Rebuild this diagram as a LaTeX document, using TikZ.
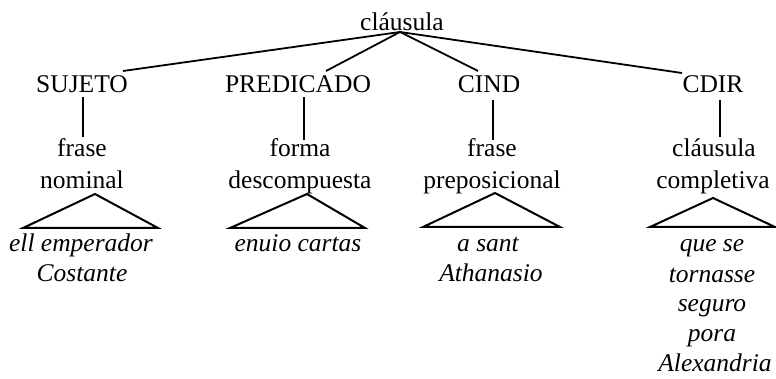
\documentclass[tikz,border=0pt]{standalone}
\usepackage{fontspec}
\setmainfont{Liberation Serif}
\begin{document}
\begin{tikzpicture}[x=1pt,y=-1pt,line width=1.6pt,
  lab/.style={anchor=base,inner sep=0pt,font=\fontsize{25.5}{30}\selectfont},
  leaf/.style={anchor=base,inner sep=0pt,font=\fontsize{25.5}{30}\selectfont\itshape},
  edge/.style={line width=1.8pt},
  tri/.style={line width=2pt,line join=miter}]
\useasboundingbox (0,0) rectangle (776,379);
% level 0
\node[lab] (root) at (402,31) {cláusula};
% level 1
\node[lab] (suj) at (82,93) {SUJETO};
\node[lab] (pred) at (298,93) {PREDICADO};
\node[lab] (cind) at (489,93) {CIND};
\node[lab] (cdir) at (713,93) {CDIR};
% level 2
\node[lab] (fn1) at (82,157) {frase};
\node[lab] (fn2) at (82,189) {nominal};
\node[lab] (fd1) at (300,157) {forma};
\node[lab] (fd2) at (300,189) {descompuesta};
\node[lab] (fp1) at (492,157) {frase};
\node[lab] (fp2) at (492,189) {preposicional};
\node[lab] (cc1) at (714,157) {cláusula};
\node[lab] (cc2) at (713,189) {completiva};
% leaves
\node[leaf] (l1a) at (81,252) {ell emperador};
\node[leaf] (l1b) at (82,282) {Costante};
\node[leaf] (l2a) at (298,252) {enuio cartas};
\node[leaf] (l3a) at (488,252) {a sant};
\node[leaf] (l3b) at (491,282) {Athanasio};
\node[leaf] (l4a) at (712,252) {que se};
\node[leaf] (l4b) at (712,283) {tornasse};
\node[leaf] (l4c) at (712,312) {seguro};
\node[leaf] (l4d) at (712,341) {pora};
\node[leaf] (l4e) at (715,371) {Alexandria};
% connector ends
\coordinate (apex) at (400,32);
\coordinate (sujT) at (123,71);
\coordinate (predT) at (326,71);
\coordinate (cindT) at (478,71);
\coordinate (cdirT) at (682,73);
\draw[edge] (apex) -- (sujT);
\draw[edge] (apex) -- (predT);
\draw[edge] (apex) -- (cindT);
\draw[edge] (apex) -- (cdirT);
% verticals
\coordinate (sujB) at (83,97);  \coordinate (fn1T) at (83,137);
\coordinate (predB) at (304,97); \coordinate (fd1T) at (304,140);
\coordinate (cindB) at (493,100); \coordinate (fp1T) at (493,140);
\coordinate (cdirB) at (720,100); \coordinate (cc1T) at (720,137);
\draw[edge] (sujB) -- (fn1T);
\draw[edge] (predB) -- (fd1T);
\draw[edge] (cindB) -- (fp1T);
\draw[edge] (cdirB) -- (cc1T);
% triangles
\draw[tri] (95,194) coordinate (t1) -- (23,228) coordinate (t1l) -- (158,228) coordinate (t1r) -- cycle;
\draw[tri] (307,194) coordinate (t2) -- (230,228) coordinate (t2l) -- (365,228) coordinate (t2r) -- cycle;
\draw[tri] (495,193) coordinate (t3) -- (423,227) coordinate (t3l) -- (560,227) coordinate (t3r) -- cycle;
\draw[tri] (713,198) coordinate (t4) -- (650,227) coordinate (t4l) -- (775,227) coordinate (t4r) -- cycle;
\end{tikzpicture}
\end{document}
